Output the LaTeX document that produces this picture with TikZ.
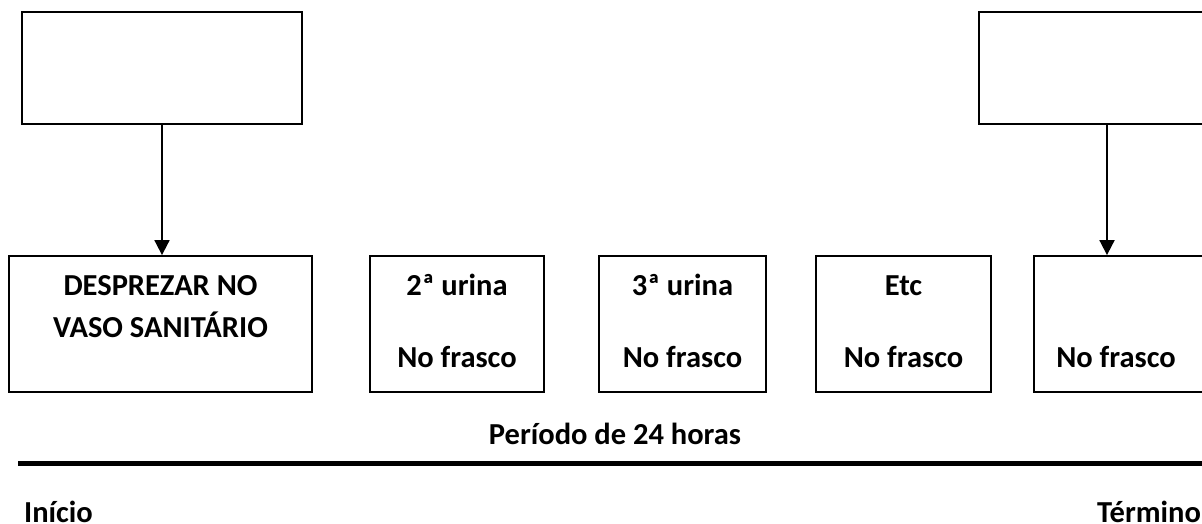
\documentclass[tikz,border=0pt]{standalone}
\usepackage{fontspec}
\setmainfont{Carlito}
\usetikzlibrary{positioning,arrows.meta,calc}

\begin{document}
\begin{tikzpicture}[
    x=1pt, y=-1pt,
    box/.style={rectangle, draw, line width=1.8pt, minimum width=#1, minimum height=136pt, inner sep=0pt},
    topbox/.style={rectangle, draw, line width=1.8pt, minimum width=280pt, minimum height=112pt, inner sep=0pt},
    lbl/.style={inner sep=0pt, anchor=base, font=\fontsize{30.5}{36}\selectfont\bfseries},
    arrow/.style={line width=1.8pt, -{Triangle[width=15pt,length=15pt]}}
]
\useasboundingbox (0,0) rectangle (1202,524);
\clip (0,0) rectangle (1202,524);

% Upper boxes
\node[topbox] (topL) at (162,68) {};
\node[topbox] (topR) at (1119,68) {};

% Row of urine boxes
\node[box=303pt] (b1) at (160.5,324) {};
\node[box=174pt] (b2) at (457,324) {};
\node[box=167pt] (b3) at (682.5,324) {};
\node[box=175pt] (b4) at (903.5,324) {};
\node[box=303pt] (b5) at (1185.5,324) {};

% Box texts
\node[lbl] (b1a) at ([yshift=-40pt]b1.north) {DESPREZAR NO};
\node[lbl] (b1b) at ([yshift=-82pt]b1.north) {VASO SANITÁRIO};
\node[lbl] (b2a) at ([yshift=-40pt]b2.north) {2ª urina};
\node[lbl] (b2b) at ([yshift=-112pt]b2.north) {No frasco};
\node[lbl] (b3a) at ([yshift=-40pt]b3.north) {3ª urina};
\node[lbl] (b3b) at ([yshift=-112pt]b3.north) {No frasco};
\node[lbl] (b4a) at ([yshift=-40pt]b4.north) {Etc};
\node[lbl] (b4b) at ([yshift=-112pt]b4.north) {No frasco};
\node[lbl, anchor=base west] (b5b) at ([xshift=23pt,yshift=-112pt]b5.north west) {No frasco};

% Arrows
\coordinate (tRfoot) at ([xshift=-12pt]topR.south);
\draw[arrow] (topL.south) -- (topL.south |- b1.north);
\draw[arrow] (tRfoot) -- (tRfoot |- b5.north);

% Time line
\coordinate (tstart) at (18,463);
\coordinate (tend) at (1220,463);
\node[lbl] (periodo) at (615,444) {Período de 24 horas};
\draw[line width=5pt] (tstart) -- (tend);
\node[lbl, anchor=base west] (inicio) at (24,522) {Início};
\node[lbl, anchor=base west] (termino) at (1097,522) {Término};

\end{tikzpicture}
\end{document}
